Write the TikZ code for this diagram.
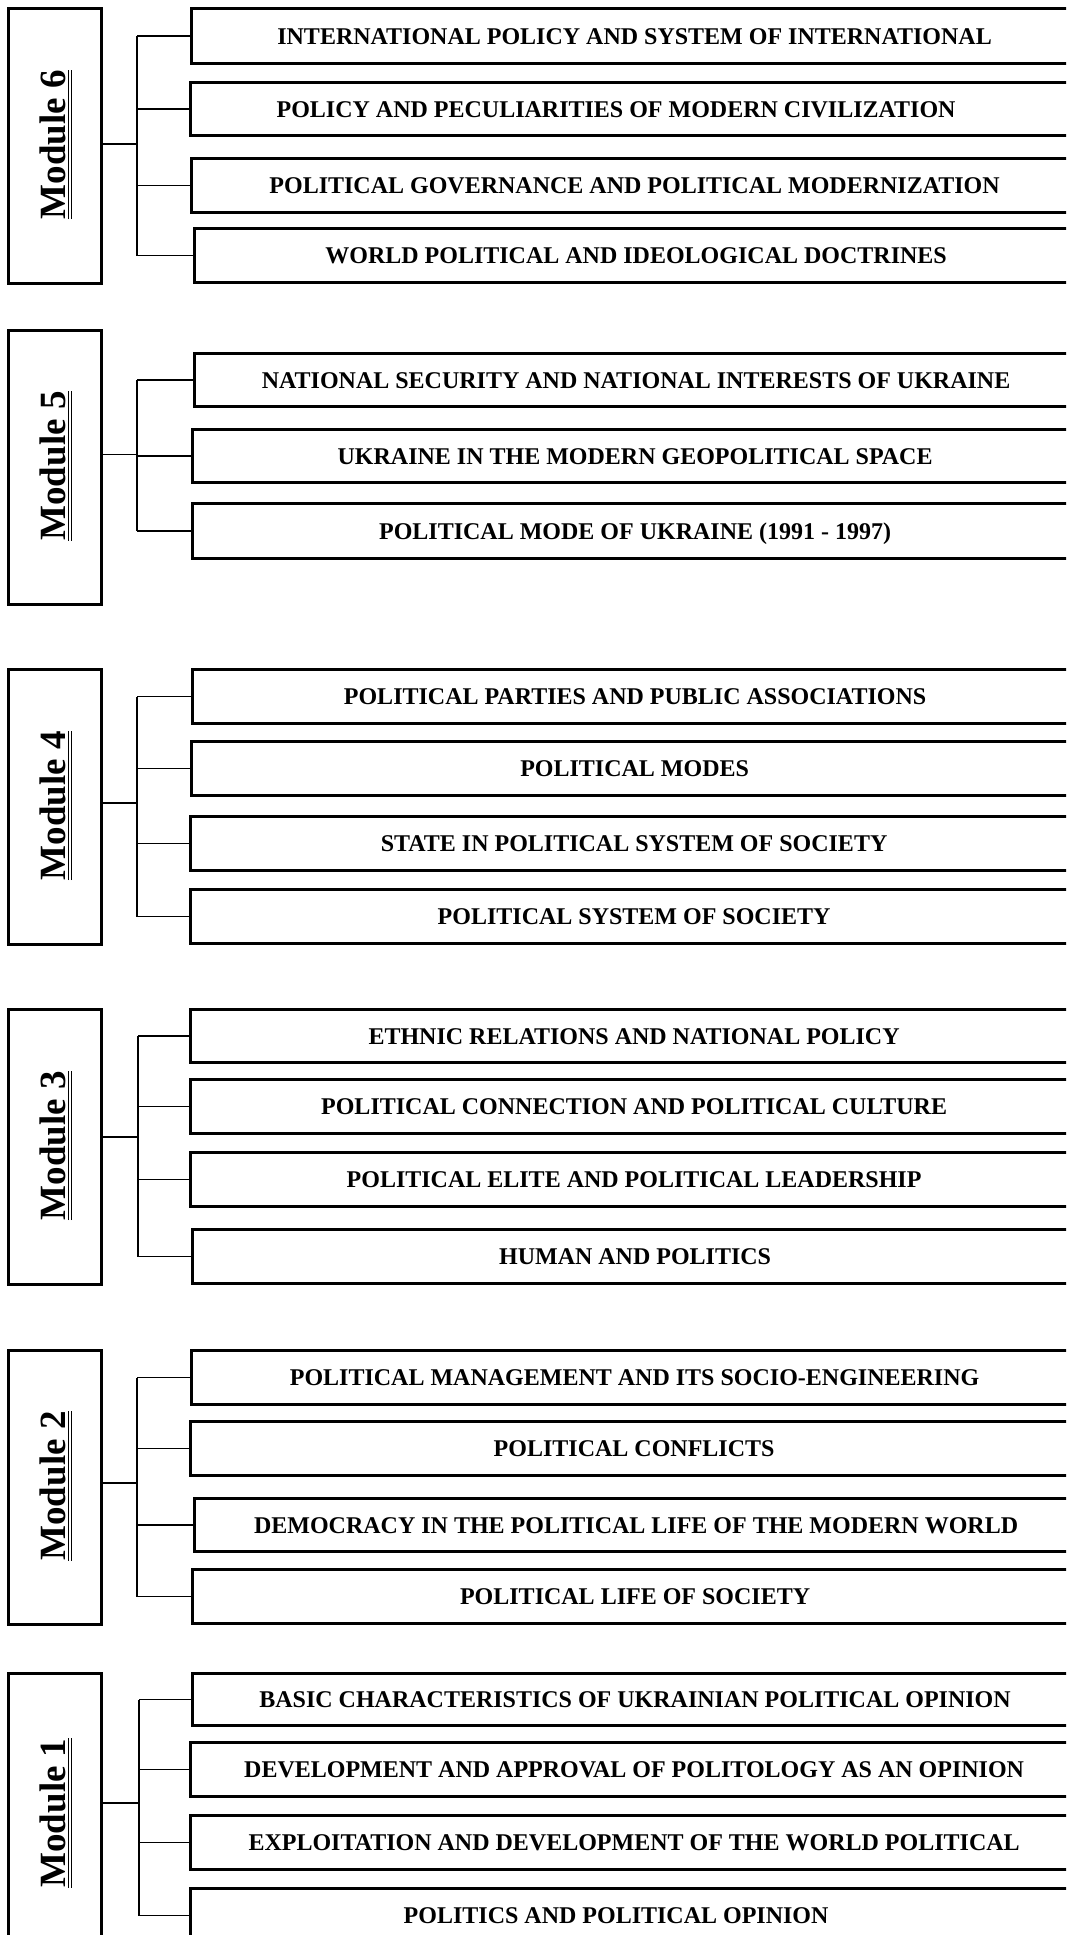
\documentclass[tikz,border=0pt]{standalone}
\usepackage{fontspec}
\setmainfont{Liberation Serif}
\begin{document}
\begin{tikzpicture}[x=1pt,y=-1pt,
  modbox/.style={draw, line width=3.2pt, inner sep=0pt},
  itembox/.style={draw, line width=3.2pt, inner sep=0pt, fill=white},
  itemtext/.style={inner sep=0pt, text height=16pt, text depth=0pt,
    font=\fontsize{24}{28}\selectfont\bfseries},
  modtext/.style={inner sep=0pt, text height=24.5pt, text depth=0pt, rotate=90,
    font=\fontsize{37}{40}\selectfont\bfseries},
  uline/.style={line width=1.1pt},
  wire/.style={line width=1.3pt}]
\useasboundingbox (0,0) rectangle (1066,1935);
\fill[white] (0,0) rectangle (1066,1935);
\clip (0,0) rectangle (1066,1935);

% one topic box: name, left, top, height, text, horizontal text offset
\newcommand\mkitem[6]{%
  \node[itembox, anchor=north west, minimum width={1076pt-#2pt}, minimum height=#4pt] (#1) at (#2,#3) {};
  \node[itemtext] (#1t) at ([xshift=#6pt]#1.center) {#5};}
% one module box with its rotated, double underlined title
\newcommand\mkmod[5]{%
  \node[modbox, anchor=north west, minimum width=93pt, minimum height=#3pt] (#1) at (7,#2) {};
  \node[modtext] (#1l) at (53.5,#4) {#5};
  \draw[uline] ([xshift=2.3pt]#1l.south west) -- ([xshift=2.3pt]#1l.south east);
  \draw[uline] ([xshift=5.7pt]#1l.south west) -- ([xshift=5.7pt]#1l.south east);}
% wiring: module, junction, list of topic boxes
\newcommand\mkwires[4]{%
  \draw[wire] (#1.east |- #2) -- (#2);
  \draw[wire] (#2 |- #3.west) -- (#2 |- #4.west);}

% ---------- Module 6 ----------
\mkmod{m6}{7}{275}{144.5}{Module 6}
\mkitem{a1}{190}{7}{55}{INTERNATIONAL POLICY AND SYSTEM OF INTERNATIONAL}{0}
\mkitem{a2}{189}{81}{53}{POLICY AND PECULIARITIES OF MODERN CIVILIZATION}{-18}
\mkitem{a3}{190}{157}{54}{POLITICAL GOVERNANCE AND POLITICAL MODERNIZATION}{0}
\mkitem{a4}{193}{227}{54}{WORLD POLITICAL AND IDEOLOGICAL DOCTRINES}{0}
\coordinate (j6) at (137,144);
\mkwires{m6}{j6}{a1}{a4}
\foreach \b in {a1,a2,a3,a4} \draw[wire] (j6 |- \b.west) -- (\b.west);

% ---------- Module 5 ----------
\mkmod{m5}{329}{274}{466}{Module 5}
\mkitem{b1}{193}{352}{53}{NATIONAL SECURITY AND NATIONAL INTERESTS OF UKRAINE}{0}
\mkitem{b2}{191}{428}{53}{UKRAINE IN THE MODERN GEOPOLITICAL SPACE}{0}
\mkitem{b3}{191}{502}{55}{POLITICAL MODE OF UKRAINE (1991 - 1997)}{0}
\coordinate (j5) at (137,454.5);
\mkwires{m5}{j5}{b1}{b3}
\foreach \b in {b1,b2,b3} \draw[wire] (j5 |- \b.west) -- (\b.west);

% ---------- Module 4 ----------
\mkmod{m4}{668}{275}{805.5}{Module 4}
\mkitem{c1}{191}{668}{54}{POLITICAL PARTIES AND PUBLIC ASSOCIATIONS}{0}
\mkitem{c2}{190}{740}{54}{POLITICAL MODES}{0}
\mkitem{c3}{189}{815}{54}{STATE IN POLITICAL SYSTEM OF SOCIETY}{0}
\mkitem{c4}{189}{888}{54}{POLITICAL SYSTEM OF SOCIETY}{0}
\coordinate (j4) at (137,803);
\mkwires{m4}{j4}{c1}{c4}
\foreach \b in {c1,c2,c3,c4} \draw[wire] (j4 |- \b.west) -- (\b.west);

% ---------- Module 3 ----------
\mkmod{m3}{1008}{275}{1145.5}{Module 3}
\mkitem{d1}{189}{1008}{53}{ETHNIC RELATIONS AND NATIONAL POLICY}{0}
\mkitem{d2}{189}{1078}{54}{POLITICAL CONNECTION AND POLITICAL CULTURE}{0}
\mkitem{d3}{189}{1151}{54}{POLITICAL ELITE AND POLITICAL LEADERSHIP}{0}
\mkitem{d4}{191}{1228}{54}{HUMAN AND POLITICS}{0}
\coordinate (j3) at (138,1137);
\mkwires{m3}{j3}{d1}{d4}
\foreach \b in {d1,d2,d3,d4} \draw[wire] (j3 |- \b.west) -- (\b.west);

% ---------- Module 2 ----------
\mkmod{m2}{1349}{274}{1486}{Module 2}
\mkitem{e1}{190}{1349}{54}{POLITICAL MANAGEMENT AND ITS SOCIO-ENGINEERING}{0}
\mkitem{e2}{189}{1420}{54}{POLITICAL CONFLICTS}{0}
\mkitem{e3}{193}{1497}{53}{DEMOCRACY IN THE POLITICAL LIFE OF THE MODERN WORLD}{0}
\mkitem{e4}{191}{1568}{54}{POLITICAL LIFE OF SOCIETY}{0}
\coordinate (j2) at (137,1483);
\mkwires{m2}{j2}{e1}{e4}
\foreach \b in {e1,e2,e3,e4} \draw[wire] (j2 |- \b.west) -- (\b.west);

% ---------- Module 1 ----------
\mkmod{m1}{1672}{290}{1813}{Module 1}
\mkitem{f1}{191}{1672}{52}{BASIC CHARACTERISTICS OF UKRAINIAN POLITICAL OPINION}{0}
\mkitem{f2}{189}{1741}{54}{DEVELOPMENT AND APPROVAL OF POLITOLOGY AS AN OPINION}{0}
\mkitem{f3}{189}{1814}{54}{EXPLOITATION AND DEVELOPMENT OF THE WORLD POLITICAL}{0}
\mkitem{f4}{189}{1887}{54}{POLITICS AND POLITICAL OPINION}{-18}
\coordinate (j1) at (139,1803);
\mkwires{m1}{j1}{f1}{f4}
\foreach \b in {f1,f2,f3,f4} \draw[wire] (j1 |- \b.west) -- (\b.west);
\end{tikzpicture}
\end{document}
